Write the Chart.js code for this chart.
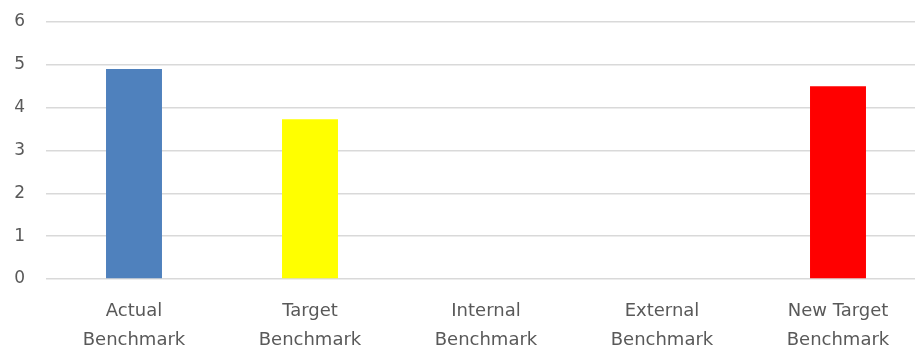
<!DOCTYPE html>
<html>
<head>
<meta charset="utf-8">
<script src="https://cdn.jsdelivr.net/npm/chart.js@4"></script>
<style>
  html, body { margin: 0; padding: 0; background: #fff; overflow: hidden; }
  #wrap { width: 926px; height: 346px; position: relative; }
</style>
</head>
<body>
<div id="wrap"><canvas id="benchChart"></canvas></div>
<script>
const categories = [
  ["Actual", "Benchmark"],
  ["Target", "Benchmark"],
  ["Internal", "Benchmark"],
  ["External", "Benchmark"],
  ["New Target", "Benchmark"]
];
const scores = [4.9, 3.73, 0, 0, 4.5];
const barColors = ["#4f81bd", "#ffff00", "#ffffff", "#ffffff", "#ff0000"];
const yTicks = [0, 1, 2, 3, 4, 5, 6];

const textColor = "#595959";
const gridColor = "#d9d9d9";

new Chart(document.getElementById("benchChart"), {
  type: "bar",
  data: {
    labels: categories,
    datasets: [{
      data: scores,
      backgroundColor: barColors,
      borderWidth: 0,
      barPercentage: 0.318,
      categoryPercentage: 1
    }]
  },
  options: {
    responsive: true,
    maintainAspectRatio: false,
    animation: false,
    layout: { padding: 0 },
    plugins: {
      legend: { display: false },
      tooltip: { enabled: false }
    },
    scales: {
      x: {
        grid: { display: false, drawTicks: false },
        border: { display: false },
        ticks: {
          color: textColor,
          font: { family: "DejaVu Sans", size: 18, lineHeight: 1.6 },
          padding: 18,
          maxRotation: 0,
          autoSkip: false
        },
        afterFit: s => { s.height = 67; }
      },
      y: {
        min: yTicks[0],
        max: yTicks[yTicks.length - 1],
        afterBuildTicks: s => { s.ticks = yTicks.map(v => ({ value: v })); },
        grid: { color: gridColor, lineWidth: 1.5, drawTicks: false },
        border: { display: false },
        ticks: {
          color: textColor,
          font: { family: "DejaVu Sans", size: 17 },
          padding: 21
        },
        afterFit: s => {
          s.width = 46;
          s.paddingTop = 22;
          s.paddingBottom = 0;
        }
      }
    }
  }
});
</script>
</body>
</html>
